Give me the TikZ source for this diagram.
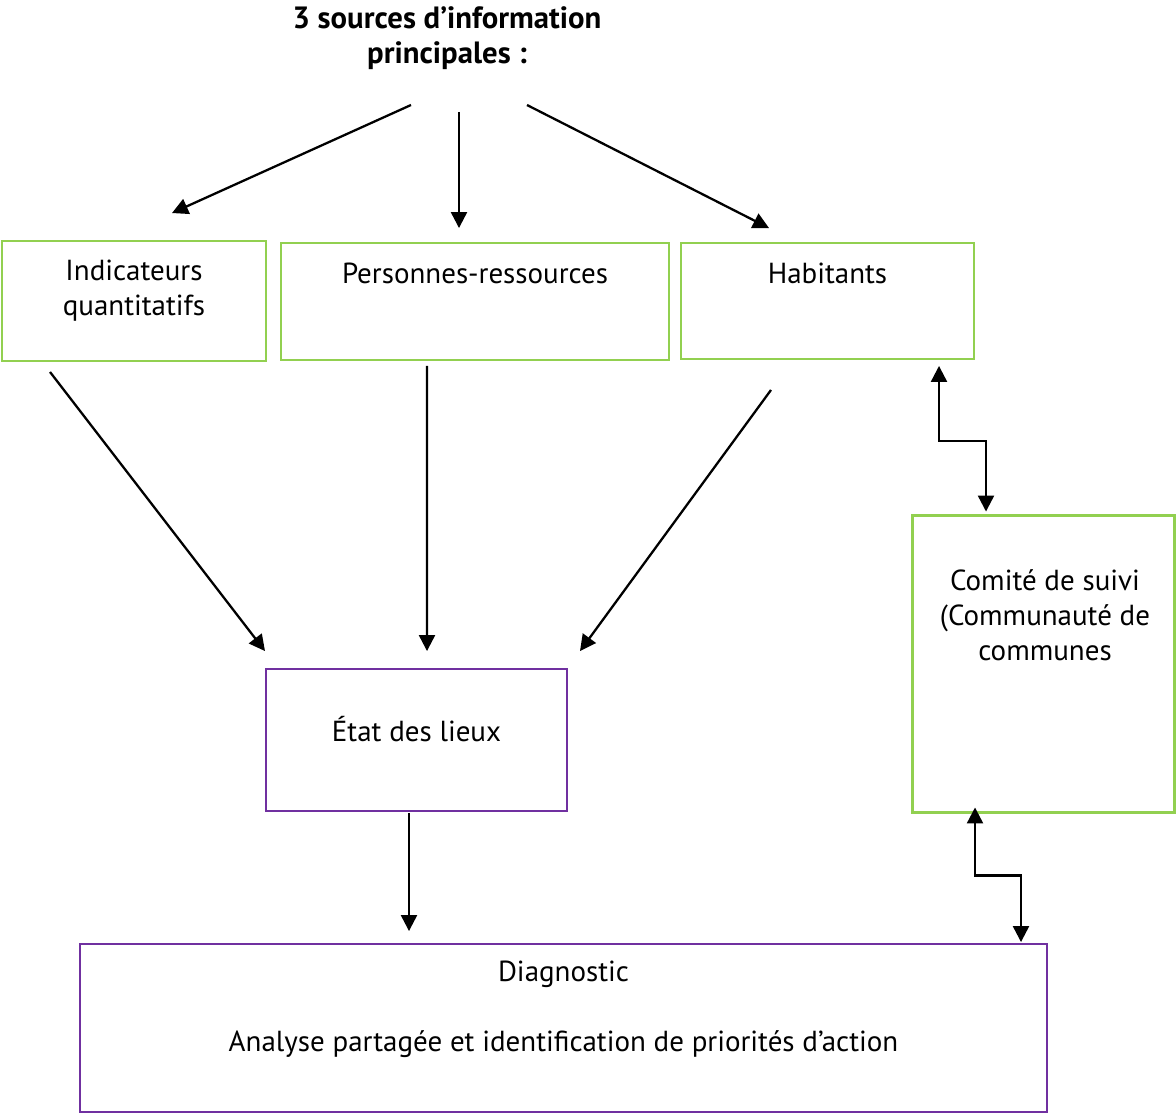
\documentclass[tikz,border=0pt]{standalone}
\usepackage{fontspec}
\setmainfont{PT Sans}
\usetikzlibrary{arrows.meta,positioning,calc}

\definecolor{boxgreen}{RGB}{146,208,80}
\definecolor{boxpurple}{RGB}{112,48,160}

\begin{document}
\begin{tikzpicture}[x=0.02cm, y=-0.02cm,
    srcbox/.style = {rectangle, draw=boxgreen, line width=1.1pt},
    suivibox/.style = {rectangle, draw=boxgreen, line width=1.7pt},
    resbox/.style = {rectangle, draw=boxpurple, line width=1.1pt},
    txt/.style = {align=center, inner sep=0pt, font=\fontsize{16.5}{19.9}\selectfont},
    arrow/.style = {line width=1.3pt, -{Triangle[length=0.32cm, width=0.32cm]}},
    dblarrow/.style = {line width=1.3pt, {Triangle[length=0.32cm, width=0.32cm]}-{Triangle[length=0.32cm, width=0.32cm]}}
]
\useasboundingbox (0,0) rectangle (1176,1115);

% Nodes
\node (title) [txt, font=\fontsize{17.5}{19.9}\selectfont\bfseries] at (447,38) {3 sources d’information\\principales :};

\node (ind) [srcbox, minimum width=5.28cm, minimum height=2.4cm] at (134,301) {};
\node (pers) [srcbox, minimum width=7.76cm, minimum height=2.34cm] at (475,301.5) {};
\node (hab) [srcbox, minimum width=5.86cm, minimum height=2.32cm] at (827.5,301) {};
\node (com) [suivibox, minimum width=5.26cm, minimum height=5.96cm] at (1043.5,664) {};
\node (etat) [resbox, minimum width=6.02cm, minimum height=2.84cm] at (416.5,740) {};
\node (diag) [resbox, minimum width=19.34cm, minimum height=3.36cm] at (563.5,1028) {};

\node (indtxt) [txt] at (134,291) {Indicateurs\\quantitatifs};
\node (perstxt) [txt] at (475,273) {Personnes-ressources};
\node (habtxt) [txt] at (827.5,273) {Habitants};
\node (comtxt) [txt] at (1045,615) {Comité de suivi\\(Communauté de\\communes};
\node (etattxt) [txt] at (416.5,729) {État des lieux};
\node (diagtxt) [txt] at (563.5,1009) {Diagnostic\\[0.7cm]Analyse partagée et identification de priorités d’action};

% Edges
\draw [arrow] ($(title)+(-36,67)$) -- ($(ind.north)+(38,-27)$);
\draw [arrow] ($(title)+(12,74)$) -- ($(pers.north)+(-16,-14)$);
\draw [arrow] ($(title)+(80,67)$) -- ($(hab.north)+(-58.5,-14)$);
\draw [arrow] ($(ind.south)+(-84,10)$) -- ($(etat.north)+(-151.5,-17)$);
\draw [arrow] ($(pers.south)+(-48,5)$) -- ($(etat.north)+(10.5,-17)$);
\draw [arrow] ($(hab.south)+(-56.5,30)$) -- ($(etat.north)+(163.5,-17)$);
\draw [arrow] ($(etat.south)+(-7.5,1)$) -- ($(diag.north)+(-154.5,-12)$);
\draw [dblarrow] ($(hab.south)+(111.5,6)$) -- ++(0,75) -| ($(com.north)+(-57.5,-2)$);
\draw [dblarrow] ($(com.south)+(-68.5,-7)$) -- ++(0,68) -| ($(diag.north)+(457.5,-1)$);

\end{tikzpicture}
\end{document}
